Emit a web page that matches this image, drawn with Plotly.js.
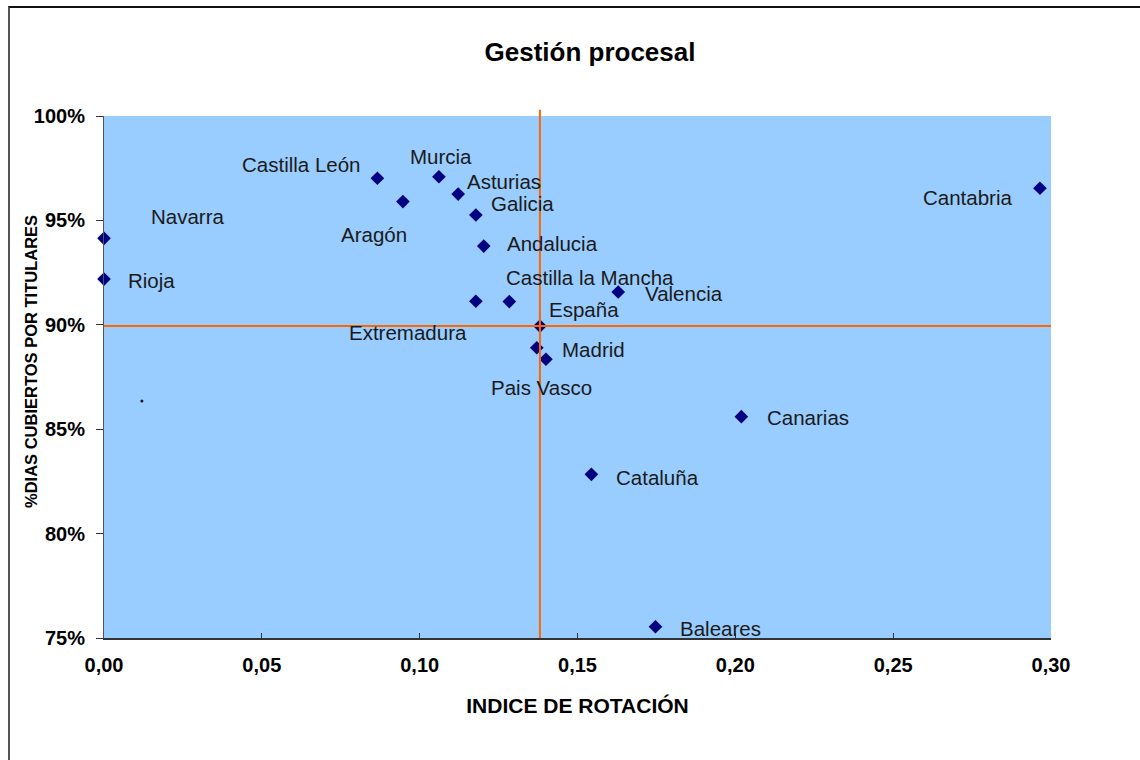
<!DOCTYPE html>
<html>
<head>
<meta charset="utf-8">
<script src="https://cdn.plot.ly/plotly-3.0.1.min.js"></script>
<style>
  html, body { margin: 0; padding: 0; background: #fff; overflow: hidden; }
  #chart { position: absolute; left: 0; top: 0; width: 1140px; height: 760px; }
  #frame { position: absolute; left: 8px; top: 6px; right: -10px; bottom: -10px;
           border-top: 2px solid #111; border-left: 2px solid #555; pointer-events: none; }
</style>
</head>
<body>
<div id="chart"></div>
<div id="frame"></div>
<script>
// ---- data ----
const regions = ["Navarra", "Rioja", "Castilla León", "Murcia", "Aragón", "Asturias", "Galicia",
  "Andalucia", "Extremadura", "Castilla la Mancha", "Valencia", "España", "Madrid", "Pais Vasco",
  "Canarias", "Cataluña", "Baleares", "Cantabria"];
const indiceRotacion = [0.000, 0.000, 0.0866, 0.1061, 0.0947, 0.1122, 0.1178,
  0.1203, 0.1178, 0.1284, 0.1629, 0.1381, 0.1371, 0.1400,
  0.2019, 0.1544, 0.1747, 0.2965];
const diasCubiertos = [94.14, 92.19, 97.02, 97.09, 95.90, 96.26, 95.26,
  93.77, 91.13, 91.11, 91.57, 89.94, 88.90, 88.35,
  85.60, 82.84, 75.54, 96.54];
const strayX = [0.012];
const strayY = [86.35];
const yTickVals = [75, 80, 85, 90, 95, 100];
const yTickText = ["75%", "80%", "85%", "90%", "95%", "100%"];
const xTickVals = [0, 0.05, 0.10, 0.15, 0.20, 0.25, 0.30];
const xTickText = ["0,00", "0,05", "0,10", "0,15", "0,20", "0,25", "0,30"];
const yAxisTitle = "%DIAS CUBIERTOS POR TITULARES";

// ---- label offsets (pixels, style only) ----
const labelDx = [84, 47, -76, 2, -29, 46, 47, 69, -68, 81, 66, 44, 57, -4, 67, 66, 65, -72];
const labelDy = [-22, 1, -14, -20, 33, -13, -11, -3, 31, -24, 1, -17, 2, 28, 1, 3, 2, 9];

const FONT = '"Liberation Sans", Arial, sans-serif';

const espIdx = regions.indexOf("España");
const espX = indiceRotacion[espIdx];
const espY = diasCubiertos[espIdx];

const traces = [
  {
    type: 'scatter', mode: 'markers',
    x: indiceRotacion, y: diasCubiertos, text: regions,
    marker: { symbol: 'diamond', size: 10.5, color: '#000080' },
    hoverinfo: 'text', cliponaxis: false
  },
  {
    type: 'scatter', mode: 'markers',
    x: strayX, y: strayY,
    marker: { symbol: 'circle', size: 3, color: '#111' },
    hoverinfo: 'skip'
  }
];

const annotations = regions.map((r, i) => ({
  x: indiceRotacion[i], y: diasCubiertos[i], xref: 'x', yref: 'y',
  text: r, showarrow: false,
  xshift: labelDx[i], yshift: -labelDy[i],
  xanchor: 'center', yanchor: 'middle',
  font: { family: FONT, size: 20.5, color: '#1a1a1a' }
}));

// y-axis title placed as a rotated annotation (left of the tick labels)
annotations.push({
  xref: 'paper', yref: 'paper',
  x: -(104 - 31) / 947, y: (638 - 362) / 522,
  xanchor: 'center', yanchor: 'middle',
  text: yAxisTitle, textangle: -90, showarrow: false,
  font: { family: FONT, size: 16.5, weight: 'bold', color: '#000' }
});

const layout = {
  width: 1140, height: 760,
  margin: { l: 104, r: 89, t: 116, b: 122, pad: 0 },
  paper_bgcolor: '#ffffff',
  plot_bgcolor: '#99CCFF',
  showlegend: false,
  hovermode: 'closest',
  title: {
    text: 'Gestión procesal',
    x: 590 / 1140, xref: 'container', xanchor: 'center',
    y: 1 - 52 / 760, yref: 'container', yanchor: 'middle',
    font: { family: FONT, size: 26, weight: 'bold', color: '#000' }
  },
  xaxis: {
    range: [0, 0.30], tickvals: xTickVals, ticktext: xTickText,
    showgrid: false, zeroline: false,
    showline: true, linecolor: '#333', linewidth: 1.5,
    ticks: 'inside', ticklen: 5, tickcolor: '#333', tickwidth: 1,
    ticklabelstandoff: 8,
    tickfont: { family: FONT, size: 20, weight: 'bold', color: '#000' },
    title: { text: 'INDICE DE ROTACIÓN', standoff: 24,
             font: { family: FONT, size: 21, weight: 'bold', color: '#000' } }
  },
  yaxis: {
    range: [75, 100], tickvals: yTickVals, ticktext: yTickText,
    showgrid: false, zeroline: false,
    showline: true, linecolor: '#555', linewidth: 1,
    ticks: 'outside', ticklen: 7, tickcolor: '#333', tickwidth: 1,
    ticklabelstandoff: 7,
    tickfont: { family: FONT, size: 20, weight: 'bold', color: '#000' }
  },
  shapes: [
    { type: 'line', xref: 'paper', yref: 'y', x0: 0, x1: 1, y0: espY, y1: espY,
      line: { color: '#FF6600', width: 2 }, layer: 'above' },
    { type: 'line', xref: 'x', yref: 'paper', x0: espX, x1: espX, y0: 0, y1: 1.012,
      line: { color: '#FF6600', width: 2 }, layer: 'above' }
  ],
  annotations: annotations
};

Plotly.newPlot('chart', traces, layout, { displayModeBar: false });
</script>
</body>
</html>
